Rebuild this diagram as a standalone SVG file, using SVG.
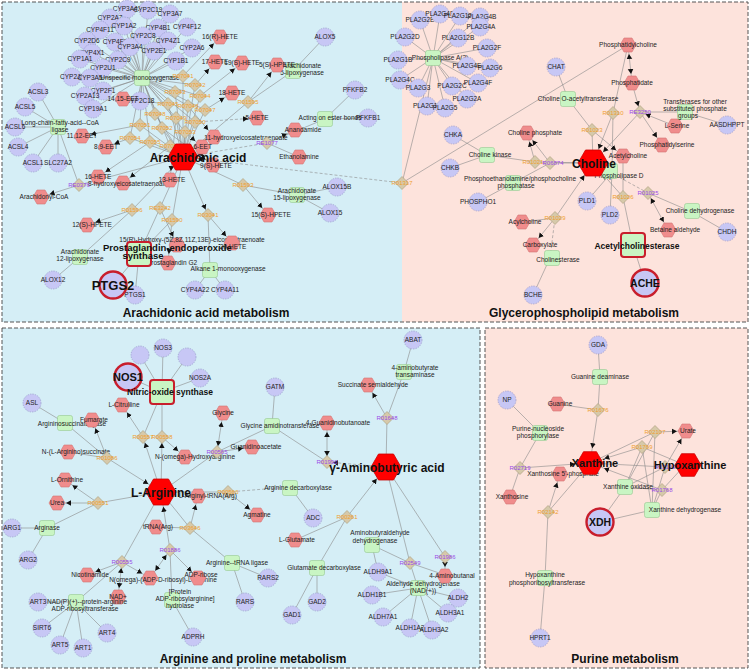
<svg xmlns="http://www.w3.org/2000/svg" width="752" height="672" viewBox="0 0 752 672">
<style>
text{font-family:"Liberation Sans",Arial,sans-serif;font-size:6.5px;fill:#222;text-anchor:middle}
.b{font-weight:bold;font-size:12px;fill:#111}
.o{fill:#f0a030;font-size:6px}
.p{fill:#9a4ae8;font-size:6px}
.ti{font-weight:bold;font-size:12px;fill:#111}
.l{fill:none;stroke:#8a8a8a;stroke-width:0.6}
.dl{stroke-dasharray:3 2}
.bd{fill:none;stroke:#555;stroke-width:1;stroke-dasharray:4 2}
</style>
<defs>
<marker id="a" markerWidth="16" markerHeight="8" refX="14" refY="4" orient="auto-start-reverse" markerUnits="userSpaceOnUse"><path d="M0 1.2L5 4L0 6.8z" fill="#111"/></marker>
<marker id="ad" markerWidth="16" markerHeight="8" refX="11" refY="4" orient="auto-start-reverse" markerUnits="userSpaceOnUse"><path d="M0 1.2L5 4L0 6.8z" fill="#111"/></marker>
<marker id="ak" markerWidth="22" markerHeight="8" refX="20" refY="4" orient="auto-start-reverse" markerUnits="userSpaceOnUse"><path d="M0 1.2L5 4L0 6.8z" fill="#111"/></marker>
<polygon id="h" points="-8,0 -4,-7 4,-7 8,0 4,7 -4,7" fill="#f08c8c" stroke="#d47474" stroke-width="0.6"/>
<polygon id="H" points="-15,0 -7.5,-13 7.5,-13 15,0 7.5,13 -7.5,13" fill="#ff0000" stroke="#cc0000" stroke-width="0.8"/>
<polygon id="H2" points="-13,0 -6.5,-11.3 6.5,-11.3 13,0 6.5,11.3 -6.5,11.3" fill="#ff0000" stroke="#cc0000" stroke-width="0.8"/>
<circle id="c" r="9" fill="#c7c7f5" stroke="#8f8fc4" stroke-width="0.6" stroke-dasharray="1.5 1"/>
<circle id="C" r="13.5" fill="#c7c7f5" stroke="#c81e2c" stroke-width="2.4"/>
<rect id="s" x="-7.5" y="-7.5" width="15" height="15" rx="2" fill="#c9f5c3" stroke="#96c890" stroke-width="0.6"/>
<rect id="S" x="-12" y="-12" width="24" height="24" rx="3" fill="#c9f5c3" stroke="#c81e2c" stroke-width="2"/>
<polygon id="d" points="0,-6.5 6.5,0 0,6.5 -6.5,0" fill="#d6c9aa" stroke="#a89a78" stroke-width="0.6"/>
</defs>

<g id="panels">
<rect x="2" y="2" width="400" height="320" fill="#d5eef6"/>
<rect x="402" y="2" width="346" height="320" fill="#fde3dc"/>
<rect class="bd" x="2" y="2" width="746" height="320"/>
<rect x="2" y="328" width="478" height="340" fill="#d5eef6"/>
<rect class="bd" x="2" y="328" width="478" height="340"/>
<rect x="485" y="328" width="263" height="340" fill="#fde3dc"/>
<rect class="bd" x="485" y="328" width="263" height="340"/>
<text class="ti" x="206" y="317">Arachidonic acid metabolism</text>
<text class="ti" x="584" y="317">Glycerophospholipid metabolism</text>
<text class="ti" x="253" y="663">Arginine and proline metabolism</text>
<text class="ti" x="625" y="663">Purine metabolism</text>
</g>

<g id="edges">
<path class="l" d="M127 9L142 78M148 10L142 78M170 14L142 78M110 18L142 78M124 26L142 78M100 30L142 78M158 28L142 78M187 27L142 78M143 36L142 78M87 41L142 78M115 42L142 78M130 47L142 78M168 41L142 78M154 51L142 78M192 48L142 78M92 53L142 78M80 59L142 78M118 60L142 78M176 61L142 78M103 68L142 78M72 77L142 78M90 78L142 78M103 91L142 78M85 96L142 78M93 109L142 78M140 101L142 78"/>
<path class="l" d="M38 92L58 127M25 107L58 127M15 127L58 127M18 147L58 127M33 163L58 127M58 163L58 127M58 127L79 185M183 157L79 185M325 37L293 71M293 71L248 102M183 157L248 102M355 90L325 119M368 118L325 119M325 119L267 143M267 143L299 157M337 187L297 195M330 213L297 195M297 195L243 185M183 157L243 185M195 290L210 270M225 290L210 270M210 270L208 215M53 280L80 257M80 257L132 210M183 157L132 210M113 285L139 254M135 295L139 254M139 254L160 208M139 254L172 220M183 157L160 208M183 157L172 220"/>
<path class="l" d="M142 78L183 76M142 78L195 85M142 78L175 92M142 78L200 96M142 78L168 104M142 78L188 106M142 78L205 110M142 78L155 114M142 78L176 118M142 78L195 122M142 78L140 125M142 78L162 128M142 78L185 132M142 78L130 138M142 78L150 142M142 78L170 146"/>
<path class="l" d="M183 157L183 76M183 157L195 85M183 157L175 92M183 157L200 96M183 157L168 104M183 157L188 106M183 157L205 110M183 157L155 114M183 157L176 118M183 157L195 122M183 157L140 125M183 157L162 128M183 157L185 132M183 157L130 138M183 157L150 142M183 157L170 146"/>
<path class="l" marker-end="url(#a)" d="M183 76L220 37"/>
<path class="l" marker-end="url(#a)" d="M195 85L215 62"/>
<path class="l" marker-end="url(#a)" d="M200 96L242 63"/>
<path class="l" marker-end="url(#a)" d="M205 110L232 93"/>
<path class="l dl" marker-end="url(#a)" d="M195 122L257 118"/>
<path class="l" marker-end="url(#a)" d="M185 132L202 147"/>
<path class="l" marker-end="url(#a)" d="M188 106L214 137"/>
<path class="l" marker-end="url(#a)" d="M168 104L123 99"/>
<path class="l" marker-end="url(#a)" d="M140 125L82 136"/>
<path class="l" marker-end="url(#a)" d="M130 138L106 147"/>
<path class="l" marker-end="url(#a)" d="M150 142L98 177"/>
<path class="l" marker-end="url(#a)" d="M170 146L123 183"/>
<path class="l" marker-end="url(#a)" d="M176 118L170 180"/>
<path class="l" marker-end="url(#a)" d="M162 128L213 165"/>
<path class="l" marker-end="url(#a)" d="M79 185L41 197"/>
<path class="l" marker-end="url(#a)" d="M248 102L277 65"/>
<path class="l" marker-end="url(#a)" d="M267 143L295 130"/>
<path class="l dl" marker-end="url(#ak)" d="M267 143L183 157"/>
<path class="l dl" marker-end="url(#ak)" d="M402 183L183 157"/>
<path class="l" marker-end="url(#a)" d="M243 185L268 215"/>
<path class="l" marker-end="url(#ad)" d="M183 157L208 215"/>
<path class="l" marker-end="url(#a)" d="M208 215L232 243"/>
<path class="l" marker-end="url(#a)" d="M132 210L87 225"/>
<path class="l" marker-end="url(#a)" d="M172 220L168 263"/>
<path class="l" marker-end="url(#a)" d="M160 208L177 245"/>

<path class="l" d="M420 20L433 58M440 14L433 58M460 16L433 58M480 17L433 58M480 27L433 58M405 37L433 58M458 38L433 58M487 48L433 58M398 60L433 58M467 66L433 58M490 68L433 58M400 80L433 58M418 88L433 58M452 86L433 58M478 83L433 58M467 99L433 58M427 106L433 58M445 108L433 58"/>
<path class="l" d="M433 58L402 183M628 45L402 183M556 67L568 99M568 99L592 130M593 163L592 130M628 45L613 113M612 172L613 113M685 112L640 112M727 125L685 112M453 135L487 155M450 168L487 155M487 155L535 162M593 163L535 162M513 183L550 163M550 163L593 163M478 202L513 183M587 201L612 172M610 215L612 172M633 245L623 197M623 156L623 197M692 212L648 193M727 232L692 212M645 283L633 245M522 222L555 218M533 295L550 258"/>
<path class="l dl" d="M593 163L648 193M550 258L555 218"/>
<path class="l" marker-end="url(#a)" d="M592 130L623 156"/>
<path class="l" marker-start="url(#a)" marker-end="url(#a)" d="M628 45L632 83"/>
<path class="l" marker-end="url(#ad)" d="M632 83L640 112"/>
<path class="l" marker-end="url(#ak)" d="M613 113L593 163"/>
<path class="l" marker-end="url(#ak)" d="M640 112L593 163"/>
<path class="l" marker-end="url(#ad)" d="M675 126L640 112"/>
<path class="l" marker-end="url(#a)" d="M640 112L662 145"/>
<path class="l" marker-end="url(#a)" d="M535 162L527 133"/>
<path class="l" marker-end="url(#a)" d="M550 163L527 133"/>
<path class="l" marker-end="url(#ak)" d="M623 197L593 163"/>
<path class="l" marker-start="url(#ad)" marker-end="url(#a)" d="M648 193L668 230"/>
<path class="l" marker-end="url(#a)" d="M555 218L533 245"/>
<path class="l" marker-end="url(#ak)" d="M555 218L593 163"/>

<path class="l" d="M140 355L162 392M163 348L162 392M187 357L162 392M200 378L162 392M128 377L162 392M162 392L143 437M162 392L162 437M32 403L65 423M65 423L107 458M68 452L107 458M275 387L272 426M272 426L217 452M272 426L327 462M161 492L217 452M413 340L404 372M404 372L387 418M386 467L387 418M161 492L228 492M313 518L290 487M317 568L347 517M295 540L347 517M292 615L317 568M317 602L317 568M378 572L372 545M372 545L410 563M378 572L418 588M372 595L418 588M383 617L418 588M410 628L418 588M432 630L418 588M448 613L418 588M458 598L418 588M418 588L410 563M445 575L410 563M386 467L445 557M386 467L410 563M232 563L190 528M268 578L232 563M245 602L232 563M161 492L190 528M156 527L190 528M161 492L98 503M47 528L98 503M12 528L47 528M28 560L47 528M161 492L122 562M76 602L122 562M38 602L76 602M42 628L76 602M60 645L76 602M83 648L76 602M107 633L76 602M172 600L170 550M193 637L172 600"/>
<path class="l dl" d="M290 487L228 492"/>
<path class="l" marker-end="url(#ad)" d="M161 492L143 437"/>
<path class="l" marker-end="url(#ad)" d="M161 492L162 437"/>
<path class="l" marker-end="url(#a)" d="M143 437L122 405"/>
<path class="l" marker-end="url(#a)" d="M162 437L185 457"/>
<path class="l" marker-end="url(#a)" d="M107 458L92 420"/>
<path class="l" marker-end="url(#ak)" d="M107 458L161 492"/>
<path class="l" marker-start="url(#a)" marker-end="url(#ad)" d="M223 413L217 452"/>
<path class="l" marker-end="url(#a)" d="M217 452L252 447"/>
<path class="l" marker-start="url(#a)" marker-end="url(#ad)" d="M327 423L327 462"/>
<path class="l dl" marker-end="url(#ad)" d="M386 467L327 462"/>
<path class="l" marker-end="url(#a)" d="M387 418L368 385"/>
<path class="l" marker-end="url(#a)" d="M228 492L257 515"/>
<path class="l" marker-end="url(#ak)" d="M347 517L386 467"/>
<path class="l" marker-end="url(#a)" d="M445 557L445 576"/>
<path class="l" marker-end="url(#a)" d="M190 528L198 496"/>
<path class="l" marker-end="url(#a)" d="M98 503L57 503"/>
<path class="l" marker-end="url(#a)" d="M98 503L65 480"/>
<path class="l" marker-end="url(#a)" d="M122 562L87 575"/>
<path class="l" marker-start="url(#ad)" marker-end="url(#a)" d="M122 562L118 597"/>
<path class="l" marker-end="url(#a)" d="M122 562L150 578"/>
<path class="l" marker-start="url(#a)" marker-end="url(#ad)" d="M150 578L170 550"/>
<path class="l" marker-end="url(#ak)" d="M170 550L161 492"/>
<path class="l" marker-end="url(#a)" d="M170 550L198 578"/>

<path class="l" d="M598 345L600 377M600 377L598 410M557 404L598 410M507 400L540 433M540 433L520 468M510 497L520 468M590 463L548 512M545 578L548 512M540 638L545 578M590 463L655 432M685 465L642 447M590 463L665 467M685 465L662 490M625 487L655 432M625 487L642 447M625 487L665 467M625 487L662 490M652 510L655 432M652 510L642 447M652 510L665 467M652 510L662 490M600 522L625 487M600 522L652 510"/>
<path class="l" marker-end="url(#ak)" d="M598 410L590 463"/>
<path class="l" marker-end="url(#ak)" d="M520 468L590 463"/>
<path class="l" marker-end="url(#a)" d="M548 512L560 474"/>
<path class="l" marker-end="url(#a)" d="M655 432L686 431"/>
<path class="l" marker-end="url(#ak)" d="M642 447L590 463"/>
<path class="l" marker-end="url(#a)" d="M665 467L686 431"/>
<path class="l" marker-end="url(#ak)" d="M662 490L590 463"/>
</g>

<g id="arachidonic">
<g id="g-CYP3A43"><use href="#c" x="127" y="9"/><text x="127" y="11.3">CYP3A43</text></g>
<g id="g-CYP2C19"><use href="#c" x="148" y="10"/><text x="148" y="12.3">CYP2C19</text></g>
<g id="g-CYP3A7"><use href="#c" x="170" y="14"/><text x="170" y="16.3">CYP3A7</text></g>
<g id="g-CYP2A7"><use href="#c" x="110" y="18"/><text x="110" y="20.3">CYP2A7</text></g>
<g id="g-CYP1A2"><use href="#c" x="124" y="26"/><text x="124" y="28.3">CYP1A2</text></g>
<g id="g-CYP4F11"><use href="#c" x="100" y="30"/><text x="100" y="32.3">CYP4F11</text></g>
<g id="g-CYP4B1"><use href="#c" x="158" y="28"/><text x="158" y="30.3">CYP4B1</text></g>
<g id="g-CYP4F12"><use href="#c" x="187" y="27"/><text x="187" y="29.3">CYP4F12</text></g>
<g id="g-CYP2C8"><use href="#c" x="143" y="36"/><text x="143" y="38.3">CYP2C8</text></g>
<g id="g-CYP2D6"><use href="#c" x="87" y="41"/><text x="87" y="43.3">CYP2D6</text></g>
<g id="g-CYP4F8"><use href="#c" x="115" y="42"/><text x="115" y="44.3">CYP4F8</text></g>
<g id="g-CYP3A4"><use href="#c" x="130" y="47"/><text x="130" y="49.3">CYP3A4</text></g>
<g id="g-CYP4Z1"><use href="#c" x="168" y="41"/><text x="168" y="43.3">CYP4Z1</text></g>
<g id="g-CYP2E1"><use href="#c" x="154" y="51"/><text x="154" y="53.3">CYP2E1</text></g>
<g id="g-CYP2A6"><use href="#c" x="192" y="48"/><text x="192" y="50.3">CYP2A6</text></g>
<g id="g-CYP4X1"><use href="#c" x="92" y="53"/><text x="92" y="55.3">CYP4X1</text></g>
<g id="g-CYP1A1"><use href="#c" x="80" y="59"/><text x="80" y="61.3">CYP1A1</text></g>
<g id="g-CYP2C9"><use href="#c" x="118" y="60"/><text x="118" y="62.3">CYP2C9</text></g>
<g id="g-CYP1B1"><use href="#c" x="176" y="61"/><text x="176" y="63.3">CYP1B1</text></g>
<g id="g-CYP2U1"><use href="#c" x="103" y="68"/><text x="103" y="70.3">CYP2U1</text></g>
<g id="g-CYP2J2"><use href="#c" x="72" y="77"/><text x="72" y="79.3">CYP2J2</text></g>
<g id="g-CYP3A5"><use href="#c" x="90" y="78"/><text x="90" y="80.3">CYP3A5</text></g>
<g id="g-CYP2F1"><use href="#c" x="103" y="91"/><text x="103" y="93.3">CYP2F1</text></g>
<g id="g-CYP2A13"><use href="#c" x="85" y="96"/><text x="85" y="98.3">CYP2A13</text></g>
<g id="g-CYP19A1"><use href="#c" x="93" y="109"/><text x="93" y="111.3">CYP19A1</text></g>
<g id="g-CYP2C18"><use href="#c" x="140" y="101"/><text x="140" y="103.3">CYP2C18</text></g>
<g id="g-ACSL3"><use href="#c" x="38" y="92"/><text x="38" y="94.3">ACSL3</text></g>
<g id="g-ACSL5"><use href="#c" x="25" y="107"/><text x="25" y="109.3">ACSL5</text></g>
<g id="g-ACSL6"><use href="#c" x="15" y="127"/><text x="15" y="129.3">ACSL6</text></g>
<g id="g-ACSL4"><use href="#c" x="18" y="147"/><text x="18" y="149.3">ACSL4</text></g>
<g id="g-ACSL1"><use href="#c" x="33" y="163"/><text x="33" y="165.3">ACSL1</text></g>
<g id="g-SLC27A2"><use href="#c" x="58" y="163"/><text x="58" y="165.3">SLC27A2</text></g>
<g id="g-ALOX5"><use href="#c" x="325" y="37"/><text x="325" y="39.3">ALOX5</text></g>
<g id="g-PFKFB2"><use href="#c" x="355" y="90"/><text x="355" y="92.3">PFKFB2</text></g>
<g id="g-PFKFB1"><use href="#c" x="368" y="118"/><text x="368" y="120.3">PFKFB1</text></g>
<g id="g-ALOX15B"><use href="#c" x="337" y="187"/><text x="337" y="189.3">ALOX15B</text></g>
<g id="g-ALOX15"><use href="#c" x="330" y="213"/><text x="330" y="215.3">ALOX15</text></g>
<g id="g-ALOX12"><use href="#c" x="53" y="280"/><text x="53" y="282.3">ALOX12</text></g>
<g id="g-PTGS1"><use href="#c" x="135" y="295"/><text x="135" y="297.3">PTGS1</text></g>
<g id="g-CYP4A22"><use href="#c" x="195" y="290"/><text x="195" y="292.3">CYP4A22</text></g>
<g id="g-CYP4A11"><use href="#c" x="225" y="290"/><text x="225" y="292.3">CYP4A11</text></g>

<g id="e-UM"><use href="#s" x="142" y="78"/><text x="140" y="80.3">Unspecific monooxygenase</text></g>
<g id="e-LCFA"><use href="#s" x="58" y="127"/><text x="60" y="124.5">Long-chain-fatty-acid--CoA</text><text x="60" y="131.5">ligase</text></g>
<g id="e-A5L"><use href="#s" x="293" y="71"/><text x="302" y="68">Arachidonate</text><text x="302" y="75">5-lipoxygenase</text></g>
<g id="e-AoEB"><use href="#s" x="325" y="119"/><text x="330" y="120.3">Acting on ester bonds</text></g>
<g id="e-A15L"><use href="#s" x="297" y="195"/><text x="297" y="192.5">Arachidonate</text><text x="297" y="199.5">15-lipoxygenase</text></g>
<g id="e-A12L"><use href="#s" x="80" y="257"/><text x="80" y="253.5">Arachidonate</text><text x="80" y="260.5">12-lipoxygenase</text></g>
<g id="e-Alkane"><use href="#s" x="210" y="270"/><text x="228" y="271.3">Alkane 1-monooxygenase</text></g>

<g id="c-16RHETE"><use href="#h" x="220" y="37"/><text x="220" y="39.3">16(R)-HETE</text></g>
<g id="c-17HETE"><use href="#h" x="215" y="62"/><text x="215" y="64.3">17-HETE</text></g>
<g id="c-19SHETE"><use href="#h" x="242" y="63"/><text x="242" y="65.3">19(S)-HETE</text></g>
<g id="c-5SHPETE"><use href="#h" x="277" y="65"/><text x="277" y="67.3">5(S)-HPETE</text></g>
<g id="c-18HETE"><use href="#h" x="232" y="93"/><text x="232" y="95.3">18-HETE</text></g>
<g id="c-5HETE"><use href="#h" x="257" y="118"/><text x="257" y="120.3">5-HETE</text></g>
<g id="c-Anandamide"><use href="#h" x="295" y="130"/><text x="303" y="132.3">Anandamide</text></g>
<g id="c-Ethanolamine"><use href="#h" x="299" y="157"/><text x="299" y="159.3">Ethanolamine</text></g>
<g id="c-11HETE"><use href="#h" x="214" y="137"/><text x="246" y="140.3">11-hydroxyeicosatetraenoate</text></g>
<g id="c-56EET"><use href="#h" x="202" y="147"/><text x="200" y="149.3">5,6-EET</text></g>
<g id="c-9SHETE"><use href="#h" x="213" y="165"/><text x="216" y="168">9(S)-HETE</text></g>
<g id="c-1415EET"><use href="#h" x="123" y="99"/><text x="123" y="101.3">14,15-EET</text></g>
<g id="c-1112EET"><use href="#h" x="82" y="136"/><text x="82" y="138.3">11,12-EET</text></g>
<g id="c-89EET"><use href="#h" x="106" y="147"/><text x="106" y="149.3">8,9-EET</text></g>
<g id="c-16HETE"><use href="#h" x="98" y="177"/><text x="98" y="179.3">16-HETE</text></g>
<g id="c-8HETE"><use href="#h" x="123" y="183"/><text x="128" y="186">8-hydroxyeicosatetraenoate</text></g>
<g id="c-AcoA"><use href="#h" x="41" y="197"/><text x="44" y="199.3">Arachidonyl-CoA</text></g>
<g id="c-13HETE"><use href="#h" x="170" y="180"/><text x="172" y="182.3">13-HETE</text></g>
<g id="c-12SHPETE"><use href="#h" x="87" y="225"/><text x="92" y="227.3">12(S)-HPETE</text></g>
<g id="c-15RH"><use href="#h" x="177" y="245"/><text x="192" y="242">15(R)-Hydroxy-(5Z,8Z,11Z,13E)-eicosatetraenoate</text></g>
<g id="c-PGG2"><use href="#h" x="168" y="263"/><text x="172" y="265.3">Prostaglandin G2</text></g>
<g id="c-20HETE"><use href="#h" x="232" y="243"/><text x="233" y="249">20-HETE</text></g>
<g id="c-15SHPETE"><use href="#h" x="268" y="215"/><text x="271" y="217.3">15(S)-HPETE</text></g>

<g id="r-d1"><use href="#d" x="183" y="76"/><text class="o" x="183" y="78">R07041</text></g>
<g id="r-d2"><use href="#d" x="195" y="85"/><text class="o" x="195" y="87">R07042</text></g>
<g id="r-d3"><use href="#d" x="175" y="92"/><text class="o" x="175" y="94">R07043</text></g>
<g id="r-d4"><use href="#d" x="200" y="96"/><text class="o" x="200" y="98">R07044</text></g>
<g id="r-d5"><use href="#d" x="168" y="104"/><text class="o" x="168" y="106">R07045</text></g>
<g id="r-d6"><use href="#d" x="188" y="106"/><text class="o" x="188" y="108">R07046</text></g>
<g id="r-d7"><use href="#d" x="205" y="110"/><text class="o" x="205" y="112">R07047</text></g>
<g id="r-d8"><use href="#d" x="155" y="114"/><text class="o" x="155" y="116">R07048</text></g>
<g id="r-d9"><use href="#d" x="176" y="118"/><text class="o" x="176" y="120">R07049</text></g>
<g id="r-d10"><use href="#d" x="195" y="122"/><text class="o" x="195" y="124">R07050</text></g>
<g id="r-d11"><use href="#d" x="140" y="125"/><text class="o" x="140" y="127">R07051</text></g>
<g id="r-d12"><use href="#d" x="162" y="128"/><text class="o" x="162" y="130">R07052</text></g>
<g id="r-d13"><use href="#d" x="185" y="132"/><text class="o" x="185" y="134">R07053</text></g>
<g id="r-d14"><use href="#d" x="130" y="138"/><text class="o" x="130" y="140">R07054</text></g>
<g id="r-d15"><use href="#d" x="150" y="142"/><text class="o" x="150" y="144">R07055</text></g>
<g id="r-d16"><use href="#d" x="170" y="146"/><text class="o" x="170" y="148">R07056</text></g>
<g id="r-R01595"><use href="#d" x="248" y="102"/><text class="o" x="248" y="104">R01595</text></g>
<g id="r-RE1077"><use href="#d" x="267" y="143"/><text class="p" x="267" y="145">RE1077</text></g>
<g id="r-R01593"><use href="#d" x="243" y="185"/><text class="o" x="243" y="187">R01593</text></g>
<g id="r-R03041"><use href="#d" x="208" y="215"/><text class="o" x="208" y="217">R03041</text></g>
<g id="r-R01596"><use href="#d" x="132" y="210"/><text class="o" x="132" y="212">R01596</text></g>
<g id="r-RE3242"><use href="#d" x="160" y="208"/><text class="o" x="160" y="210">RE3242</text></g>
<g id="r-R01590"><use href="#d" x="172" y="220"/><text class="o" x="172" y="222">R01590</text></g>
<g id="r-RE0376"><use href="#d" x="79" y="185"/><text class="p" x="79" y="187">RE0376</text></g>
<g id="r-R01317"><use href="#d" x="402" y="183"/><text class="o" x="402" y="185">R01317</text></g>

<g id="c-AA"><use href="#H" x="183" y="157"/><text class="b" x="198" y="162">Arachidonic acid</text></g>
<g id="e-PGES"><use href="#S" x="139" y="254"/><text class="b" style="font-size:9.5px;text-anchor:start" x="103" y="251">Prostaglandin-endoperoxide</text><text class="b" style="font-size:9.5px" x="143" y="259">synthase</text></g>
<g id="g-PTGS2"><use href="#C" x="113" y="285"/><text class="b" style="font-size:13px" x="113" y="290">PTGS2</text></g>
</g>

<g id="glycerophospholipid">
<g id="e-PLA2"><use href="#s" x="433" y="58"/><text x="440" y="60.3">Phospholipase A(2)</text></g>
<g id="g-PLA2G2E"><use href="#c" x="420" y="20"/><text x="420" y="22.3">PLA2G2E</text></g>
<g id="g-PLA2G4D"><use href="#c" x="440" y="14"/><text x="440" y="16.3">PLA2G4D</text></g>
<g id="g-PLA2G12A"><use href="#c" x="460" y="16"/><text x="460" y="18.3">PLA2G12A</text></g>
<g id="g-PLA2G4B"><use href="#c" x="480" y="17"/><text x="482" y="19.3">PLA2G4B</text></g>
<g id="g-PLA2G4A"><use href="#c" x="480" y="27"/><text x="481" y="29.3">PLA2G4A</text></g>
<g id="g-PLA2G2D"><use href="#c" x="405" y="37"/><text x="405" y="39.3">PLA2G2D</text></g>
<g id="g-PLA2G12B"><use href="#c" x="458" y="38"/><text x="458" y="40.3">PLA2G12B</text></g>
<g id="g-PLA2G2F"><use href="#c" x="487" y="48"/><text x="487" y="50.3">PLA2G2F</text></g>
<g id="g-PLA2G1B"><use href="#c" x="398" y="60"/><text x="398" y="62.3">PLA2G1B</text></g>
<g id="g-PLA2G4E"><use href="#c" x="467" y="66"/><text x="467" y="68.3">PLA2G4E</text></g>
<g id="g-PLA2G6"><use href="#c" x="490" y="68"/><text x="490" y="70.3">PLA2G6</text></g>
<g id="g-PLA2G4C"><use href="#c" x="400" y="80"/><text x="400" y="82.3">PLA2G4C</text></g>
<g id="g-PLA2G3"><use href="#c" x="418" y="88"/><text x="418" y="90.3">PLA2G3</text></g>
<g id="g-PLA2G2C"><use href="#c" x="452" y="86"/><text x="452" y="88.3">PLA2G2C</text></g>
<g id="g-PLA2G4F"><use href="#c" x="478" y="83"/><text x="478" y="85.3">PLA2G4F</text></g>
<g id="g-PLA2G2A"><use href="#c" x="467" y="99"/><text x="467" y="101.3">PLA2G2A</text></g>
<g id="g-PLA2G10"><use href="#c" x="427" y="106"/><text x="427" y="108.3">PLA2G10</text></g>
<g id="g-PLA2G5"><use href="#c" x="445" y="108"/><text x="445" y="110.3">PLA2G5</text></g>
<g id="g-CHAT"><use href="#c" x="556" y="67"/><text x="556" y="69.3">CHAT</text></g>
<g id="e-ChOAT"><use href="#s" x="568" y="99"/><text x="578" y="101.3">Choline O-acetyltransferase</text></g>
<g id="g-CHKA"><use href="#c" x="453" y="135"/><text x="453" y="137.3">CHKA</text></g>
<g id="e-CK"><use href="#s" x="487" y="155"/><text x="490" y="157.3">Choline kinase</text></g>
<g id="g-CHKB"><use href="#c" x="450" y="168"/><text x="450" y="170.3">CHKB</text></g>
<g id="e-PEPC"><use href="#s" x="513" y="183"/><text x="520" y="180.5">Phosphoethanolamine/phosphocholine</text><text x="516" y="187.5">phosphatase</text></g>
<g id="g-PHOSPHO1"><use href="#c" x="478" y="202"/><text x="478" y="204.3">PHOSPHO1</text></g>
<g id="c-Acylcholine"><use href="#h" x="522" y="222"/><text x="525" y="224.3">Acylcholine</text></g>
<g id="c-Carboxylate"><use href="#h" x="533" y="245"/><text x="540" y="247.3">Carboxylate</text></g>
<g id="e-Cholinesterase"><use href="#s" x="552" y="258"/><text x="558" y="262">Cholinesterase</text></g>
<g id="g-BCHE"><use href="#c" x="533" y="295"/><text x="533" y="297.3">BCHE</text></g>
<g id="r-R01029"><use href="#d" x="555" y="218"/><text class="o" x="555" y="220">R01029</text></g>
<g id="c-ChoP"><use href="#h" x="527" y="133"/><text x="535" y="135.3">Choline phosphate</text></g>
<g id="r-R01021"><use href="#d" x="535" y="162"/><text class="o" x="533" y="164">R01021</text></g>
<g id="r-R06874"><use href="#d" x="550" y="163"/><text class="p" x="553" y="165">R06874</text></g>
<g id="c-PC"><use href="#h" x="628" y="45"/><text x="628" y="47.3">Phosphatidylcholine</text></g>
<g id="c-PA"><use href="#h" x="632" y="83"/><text x="632" y="85.3">Phosphatidate</text></g>
<g id="r-R01310"><use href="#d" x="613" y="113"/><text class="o" x="613" y="115">R01310</text></g>
<g id="r-RE3250"><use href="#d" x="640" y="112"/><text class="p" x="640" y="114">RE3250</text></g>
<g id="c-LSer"><use href="#h" x="675" y="126"/><text x="677" y="128.3">L-Serine</text></g>
<g id="e-Transf"><use href="#s" x="685" y="112"/><text x="695" y="104">Transferases for other</text><text x="695" y="111">substituted phosphate</text><text x="688" y="118">groups</text></g>
<g id="g-AASDHPPT"><use href="#c" x="727" y="125"/><text x="727" y="127.3">AASDHPPT</text></g>
<g id="c-PS"><use href="#h" x="662" y="145"/><text x="667" y="147.3">Phosphatidylserine</text></g>
<g id="r-R01023"><use href="#d" x="592" y="130"/><text class="o" x="592" y="132">R01023</text></g>
<g id="c-ACh"><use href="#h" x="623" y="156"/><text x="628" y="158.3">Acetylcholine</text></g>
<g id="e-PLD"><use href="#s" x="610" y="171"/><text x="619" y="178">Phospholipase D</text></g>
<g id="g-PLD1"><use href="#c" x="587" y="201"/><text x="587" y="203.3">PLD1</text></g>
<g id="g-PLD2"><use href="#c" x="610" y="215"/><text x="610" y="217.3">PLD2</text></g>
<g id="r-R01026"><use href="#d" x="623" y="197"/><text class="o" x="623" y="199">R01026</text></g>
<g id="r-R01025"><use href="#d" x="648" y="193"/><text class="p" x="648" y="195">R01025</text></g>
<g id="e-ChDH"><use href="#s" x="692" y="211"/><text x="700" y="213.3">Choline dehydrogenase</text></g>
<g id="g-CHDH"><use href="#c" x="727" y="232"/><text x="727" y="234.3">CHDH</text></g>
<g id="c-Betaine"><use href="#h" x="668" y="230"/><text x="675" y="232.3">Betaine aldehyde</text></g>
<g id="c-Choline"><use href="#H" x="593" y="163"/><text class="b" x="594" y="168">Choline</text></g>
<g id="e-AChE"><use href="#S" x="633" y="245"/><text class="b" style="font-size:8.5px" x="637" y="249">Acetylcholinesterase</text></g>
<g id="g-ACHE"><use href="#C" x="645" y="283"/><text class="b" style="font-size:10.5px" x="645" y="287">ACHE</text></g>
</g>

<g id="arginine">
<g id="g-NOSa"><use href="#c" x="140" y="355"/></g>
<g id="g-NOS3"><use href="#c" x="163" y="348"/><text x="163" y="350.3">NOS3</text></g>
<g id="g-NOSb"><use href="#c" x="187" y="357"/></g>
<g id="g-NOS2A"><use href="#c" x="200" y="378"/><text x="200" y="380.3">NOS2A</text></g>
<g id="g-ASL"><use href="#c" x="32" y="403"/><text x="32" y="405.3">ASL</text></g>
<g id="e-ASL"><use href="#s" x="65" y="423"/><text x="72" y="426">Argininosuccinate lyase</text></g>
<g id="c-Fumarate"><use href="#h" x="92" y="420"/><text x="94" y="422.3">Fumarate</text></g>
<g id="c-Citrulline"><use href="#h" x="122" y="405"/><text x="124" y="407.3">L-Citrulline</text></g>
<g id="r-R00557"><use href="#d" x="143" y="437"/><text class="o" x="143" y="439">R00557</text></g>
<g id="r-R00558"><use href="#d" x="162" y="437"/><text class="o" x="162" y="439">R00558</text></g>
<g id="c-ArgSucc"><use href="#h" x="68" y="452"/><text x="76" y="454.3">N-(L-Arginino)succinate</text></g>
<g id="r-R01086"><use href="#d" x="107" y="458"/><text class="o" x="107" y="460">R01086</text></g>
<g id="c-NOHA"><use href="#h" x="185" y="457"/><text x="195" y="459.3">N-(omega)-Hydroxyarginine</text></g>
<g id="c-Ornithine"><use href="#h" x="65" y="480"/><text x="67" y="482.3">L-Ornithine</text></g>
<g id="c-Glycine"><use href="#h" x="223" y="413"/><text x="223" y="415.3">Glycine</text></g>
<g id="r-R00565"><use href="#d" x="217" y="452"/><text class="p" x="217" y="454">R00565</text></g>
<g id="c-Guanidinoacetate"><use href="#h" x="252" y="447"/><text x="256" y="449.3">Guanidinoacetate</text></g>
<g id="g-GATM"><use href="#c" x="275" y="387"/><text x="275" y="389.3">GATM</text></g>
<g id="e-GAT"><use href="#s" x="272" y="426"/><text x="280" y="428.3">Glycine amidinotransferase</text></g>
<g id="c-4GB"><use href="#h" x="327" y="423"/><text x="338" y="425.3">4-Guanidinobutanoate</text></g>
<g id="r-R01990"><use href="#d" x="327" y="462"/><text class="p" x="327" y="464">R01990</text></g>
<g id="c-SSA"><use href="#h" x="368" y="385"/><text x="373" y="387.3">Succinate semialdehyde</text></g>
<g id="e-ABT"><use href="#s" x="404" y="372"/><text x="415" y="370">4-aminobutyrate</text><text x="415" y="377">transaminase</text></g>
<g id="g-ABAT"><use href="#c" x="413" y="340"/><text x="413" y="342.3">ABAT</text></g>
<g id="r-R01648"><use href="#d" x="387" y="418"/><text class="p" x="387" y="420">R01648</text></g>
<g id="e-ADCe"><use href="#s" x="290" y="488"/><text x="298" y="490.3">Arginine decarboxylase</text></g>
<g id="r-R00566"><use href="#d" x="228" y="492"/><text class="o" x="228" y="494">R00566</text></g>
<g id="c-ArgtRNA"><use href="#h" x="198" y="496"/><text x="208" y="498.3">L-Arginyl-tRNA(Arg)</text></g>
<g id="c-Agmatine"><use href="#h" x="257" y="515"/><text x="257" y="517.3">Agmatine</text></g>
<g id="g-ADC"><use href="#c" x="313" y="518"/><text x="313" y="520.3">ADC</text></g>
<g id="r-R00261"><use href="#d" x="347" y="517"/><text class="o" x="347" y="519">R00261</text></g>
<g id="c-Glu"><use href="#h" x="295" y="540"/><text x="297" y="542.3">L-Glutamate</text></g>
<g id="e-AbDH"><use href="#s" x="372" y="545"/><text x="380" y="535">Aminobutyraldehyde</text><text x="375" y="542.5">dehydrogenase</text></g>
<g id="e-GluDC"><use href="#s" x="317" y="568"/><text x="324" y="570.3">Glutamate decarboxylase</text></g>
<g id="g-GAD2"><use href="#c" x="317" y="602"/><text x="317" y="604.3">GAD2</text></g>
<g id="g-GAD1"><use href="#c" x="292" y="615"/><text x="292" y="617.3">GAD1</text></g>
<g id="g-ALDH9A1"><use href="#c" x="378" y="572"/><text x="378" y="574.3">ALDH9A1</text></g>
<g id="g-ALDH1B1"><use href="#c" x="372" y="595"/><text x="372" y="597.3">ALDH1B1</text></g>
<g id="g-ALDH7A1"><use href="#c" x="383" y="617"/><text x="383" y="619.3">ALDH7A1</text></g>
<g id="g-ALDH1A3"><use href="#c" x="410" y="628"/><text x="410" y="630.3">ALDH1A3</text></g>
<g id="g-ALDH3A2"><use href="#c" x="432" y="630"/><text x="434" y="632.3">ALDH3A2</text></g>
<g id="g-ALDH3A1"><use href="#c" x="448" y="613"/><text x="450" y="615.3">ALDH3A1</text></g>
<g id="g-ALDH2"><use href="#c" x="458" y="598"/><text x="458" y="600.3">ALDH2</text></g>
<g id="e-AldDH"><use href="#s" x="418" y="588"/><text x="423" y="586">Aldehyde dehydrogenase</text><text x="423" y="593">(NAD(+))</text></g>
<g id="r-R02549"><use href="#d" x="410" y="563"/><text class="p" x="410" y="565">R02549</text></g>
<g id="r-R01986"><use href="#d" x="445" y="557"/><text class="p" x="445" y="559">R01986</text></g>
<g id="c-4AB"><use href="#h" x="445" y="576"/><text x="452" y="578.3">4-Aminobutanal</text></g>
<g id="e-ArgRS"><use href="#s" x="232" y="563"/><text x="237" y="565.3">Arginine--tRNA ligase</text></g>
<g id="g-RARS2"><use href="#c" x="268" y="578"/><text x="268" y="580.3">RARS2</text></g>
<g id="g-RARS"><use href="#c" x="245" y="602"/><text x="245" y="604.3">RARS</text></g>
<g id="r-R03646"><use href="#d" x="190" y="528"/><text class="o" x="190" y="530">R03646</text></g>
<g id="c-tRNA"><use href="#h" x="156" y="527"/><text x="158" y="529.3">tRNA(Arg)</text></g>
<g id="c-Urea"><use href="#h" x="57" y="503"/><text x="57" y="505.3">Urea</text></g>
<g id="r-R00551"><use href="#d" x="98" y="503"/><text class="o" x="98" y="505">R00551</text></g>
<g id="e-Arginase"><use href="#s" x="47" y="528"/><text x="47" y="530.3">Arginase</text></g>
<g id="g-ARG1"><use href="#c" x="12" y="528"/><text x="12" y="530.3">ARG1</text></g>
<g id="g-ARG2"><use href="#c" x="28" y="560"/><text x="28" y="562.3">ARG2</text></g>
<g id="r-R00555"><use href="#d" x="122" y="562"/><text class="p" x="122" y="564">R00555</text></g>
<g id="c-Nicotinamide"><use href="#h" x="87" y="575"/><text x="90" y="577.3">Nicotinamide</text></g>
<g id="c-ADPRArg"><use href="#h" x="150" y="578"/><text x="163" y="581.5">N(omega)-(ADP-D-ribosyl)-L-arginine</text></g>
<g id="c-NAD"><use href="#h" x="118" y="597"/><text x="118" y="599.3">NAD+</text></g>
<g id="e-ART"><use href="#s" x="76" y="602"/><text x="87" y="603.5">NAD(P)(+)--protein-arginine</text><text x="85" y="610.5">ADP-ribosyltransferase</text></g>
<g id="g-ART3"><use href="#c" x="38" y="602"/><text x="38" y="604.3">ART3</text></g>
<g id="g-SIRT6"><use href="#c" x="42" y="628"/><text x="42" y="630.3">SIRT6</text></g>
<g id="g-ART5"><use href="#c" x="60" y="645"/><text x="60" y="647.3">ART5</text></g>
<g id="g-ART1"><use href="#c" x="83" y="648"/><text x="83" y="650.3">ART1</text></g>
<g id="g-ART4"><use href="#c" x="107" y="633"/><text x="107" y="635.3">ART4</text></g>
<g id="r-R01886"><use href="#d" x="170" y="550"/><text class="p" x="170" y="552">R01886</text></g>
<g id="c-ADPribose"><use href="#h" x="198" y="578"/><text x="201" y="577">ADP-ribose</text></g>
<g id="e-ADPRHe"><use href="#s" x="172" y="600"/><text x="180" y="594">[Protein</text><text x="185" y="601">ADP-ribosylarginine]</text><text x="180" y="608">hydrolase</text></g>
<g id="g-ADPRH"><use href="#c" x="193" y="637"/><text x="193" y="639.3">ADPRH</text></g>
<g id="c-LArg"><use href="#H" x="161" y="492"/><text class="b" x="161" y="497">L-Arginine</text></g>
<g id="c-GABA"><use href="#H" x="386" y="467"/><text class="b" x="387" y="472">γ-Aminobutyric acid</text></g>
<g id="g-NOS1"><use href="#C" x="128" y="377"/><text class="b" style="font-size:11px" x="128" y="381">NOS1</text></g>
<g id="e-NOS"><use href="#S" x="162" y="392"/><text class="b" style="font-size:8.5px" x="170" y="395">Nitric-oxide synthase</text></g>
</g>

<g id="purine">
<g id="g-GDA"><use href="#c" x="598" y="345"/><text x="598" y="347.3">GDA</text></g>
<g id="e-GD"><use href="#s" x="600" y="377"/><text x="600" y="379.3">Guanine deaminase</text></g>
<g id="g-NP"><use href="#c" x="507" y="400"/><text x="507" y="402.3">NP</text></g>
<g id="c-Guanine"><use href="#h" x="557" y="404"/><text x="560" y="406.3">Guanine</text></g>
<g id="r-R01676"><use href="#d" x="598" y="410"/><text class="o" x="598" y="412">R01676</text></g>
<g id="e-PNP"><use href="#s" x="540" y="433"/><text x="538" y="431">Purine-nucleoside</text><text x="538" y="438">phosphorylase</text></g>
<g id="c-XMP"><use href="#h" x="560" y="474"/><text x="563" y="476.3">Xanthosine 5'-phosphate</text></g>
<g id="c-Urate"><use href="#h" x="686" y="431"/><text x="688" y="433.3">Urate</text></g>
<g id="r-R02107"><use href="#d" x="655" y="432"/><text class="o" x="655" y="434">R02107</text></g>
<g id="r-R01769"><use href="#d" x="642" y="447"/><text class="o" x="642" y="449">R01769</text></g>
<g id="r-R02103"><use href="#d" x="665" y="467"/><text class="p" x="665" y="469">R02103</text></g>
<g id="r-R01768"><use href="#d" x="662" y="490"/><text class="p" x="662" y="492">R01768</text></g>
<g id="r-R02719"><use href="#d" x="520" y="468"/><text class="p" x="520" y="470">R02719</text></g>
<g id="c-Xanthosine"><use href="#h" x="510" y="497"/><text x="512" y="499.3">Xanthosine</text></g>
<g id="r-R02142"><use href="#d" x="548" y="512"/><text class="o" x="548" y="514">R02142</text></g>
<g id="e-XO"><use href="#s" x="625" y="487"/><text x="628" y="489.3">Xanthine oxidase</text></g>
<g id="e-XDHe"><use href="#s" x="652" y="510"/><text x="685" y="512.3">Xanthine dehydrogenase</text></g>
<g id="e-HGPRT"><use href="#s" x="545" y="578"/><text x="545" y="577">Hypoxanthine</text><text x="547" y="585">phosphoribosyltransferase</text></g>
<g id="g-HPRT1"><use href="#c" x="540" y="638"/><text x="540" y="640.3">HPRT1</text></g>
<g id="c-Xanthine"><use href="#H2" x="590" y="463"/><text class="b" style="font-size:11px" x="595" y="467">Xanthine</text></g>
<g id="c-Hypoxanthine"><use href="#H2" x="688" y="465"/><text class="b" style="font-size:11px" x="690" y="469">Hypoxanthine</text></g>
<g id="g-XDH"><use href="#C" x="600" y="522"/><text class="b" style="font-size:10.5px" x="600" y="526">XDH</text></g>
</g>
</svg>
